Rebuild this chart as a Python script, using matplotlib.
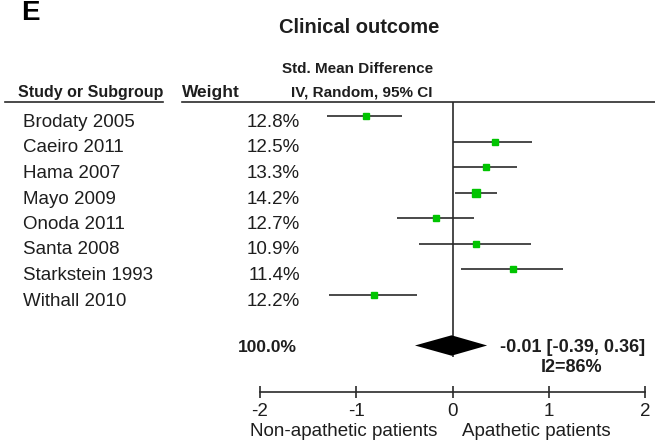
import matplotlib
matplotlib.use("Agg")
import matplotlib.pyplot as plt
import matplotlib.transforms as mtransforms
import numpy as np

# ---- data ----
studies = ["Brodaty 2005", "Caeiro 2011", "Hama 2007", "Mayo 2009",
           "Onoda 2011", "Santa 2008", "Starkstein 1993", "Withall 2010"]
weights = [12.8, 12.5, 13.3, 14.2, 12.7, 10.9, 11.4, 12.2]
smd = [-0.90, 0.44, 0.35, 0.24, -0.17, 0.24, 0.63, -0.82]
ci_low = [-1.30, 0.00, 0.00, 0.03, -0.58, -0.35, 0.09, -1.28]
ci_high = [-0.52, 0.83, 0.67, 0.46, 0.22, 0.82, 1.15, -0.37]
pooled = -0.01
pooled_low = -0.39
pooled_high = 0.36
pooled_label = "-0.01 [-0.39, 0.36]"
het_label = "I2=86%"
total_weight = "100.0%"
xticks = [-2, -1, 0, 1, 2]
xticklabels = ["-2", "-1", "0", "1", "2"]

W, H = 655, 441
plt.rcParams['font.family'] = ['Liberation Sans', 'DejaVu Sans']
TXT = "#1e1e1e"
LINE = "#2a2a2a"
GREEN = "#00c400"

fig = plt.figure(figsize=(W / 100, H / 100), dpi=100)

def fx(px):
    return px / W

def fy(py):
    return 1 - py / H

ax_left, ax_right = 260, 645
ax_top, ax_bot = 101.7, 391.7
ax = fig.add_axes([fx(ax_left), fy(ax_bot), (ax_right - ax_left) / W, (ax_bot - ax_top) / H])

row0_px, row_step = 116.0, 25.5
n = len(studies)
rows = np.arange(n)
pooled_row = n + 1
ax.set_xlim(-2, 2)
ax.set_ylim((ax_bot - row0_px) / row_step, (ax_top - row0_px) / row_step)

ax.vlines(0, ax.get_ylim()[1], pooled_row + 0.47, color=LINE, lw=1.2, zorder=1)

for i in range(n):
    ax.hlines(rows[i], ci_low[i], ci_high[i], color=LINE, lw=1.2, zorder=2)
    ax.plot(smd[i], rows[i], marker='s', ms=weights[i] * 0.36, color=GREEN,
            mec=GREEN, ls='none', zorder=3)

h = 0.4
ax.fill([pooled_low, pooled, pooled_high, pooled],
        [pooled_row, pooled_row - h, pooled_row, pooled_row + h],
        color="black", zorder=4, lw=0)

for s in ["top", "left", "right"]:
    ax.spines[s].set_visible(False)
ax.spines["bottom"].set_color(LINE)
ax.spines["bottom"].set_linewidth(1.2)
ax.set_yticks([])
ax.set_xticks(xticks)
ax.set_xticklabels(xticklabels)
ax.tick_params(axis='x', direction='inout', length=8.5, width=1.2, color=LINE,
               labelsize=13.5, labelcolor=TXT, pad=4)
ax.patch.set_visible(False)

blend = mtransforms.blended_transform_factory(fig.transFigure, ax.transData)
row_tr = mtransforms.offset_copy(blend, fig=fig, y=-11, units='dots')
for i in range(n):
    ax.text(fx(23), rows[i], studies[i], transform=row_tr, ha='left', va='baseline',
            fontsize=13.5, color=TXT, clip_on=False)
    ax.text(fx(300), rows[i], f"{weights[i]:.1f}%", transform=row_tr, ha='right',
            va='baseline', fontsize=13.5, color=TXT, clip_on=False)

pooled_tr = mtransforms.offset_copy(blend, fig=fig, y=-7, units='dots')
ax.text(fx(297), pooled_row, total_weight, transform=pooled_tr, ha='right', va='baseline',
        fontsize=12.5, fontweight='bold', color=TXT, clip_on=False)
ax.text(fx(500), pooled_row, pooled_label, transform=pooled_tr, ha='left', va='baseline',
        fontsize=13, fontweight='bold', color=TXT, clip_on=False)
het_tr = mtransforms.offset_copy(blend, fig=fig, y=-26, units='dots')
ax.text(fx(572), pooled_row, het_label, transform=het_tr, ha='center', va='baseline',
        fontsize=13, fontweight='bold', color=TXT, clip_on=False)

fig.text(fx(21), fy(20.5), "E", fontsize=20, fontweight='bold', color='black', va='baseline')
fig.text(fx(359), fy(33), "Clinical outcome", fontsize=14.5, fontweight='bold', color=TXT,
         ha='center', va='baseline')
fig.text(fx(358), fy(73), "Std. Mean Difference", fontsize=11, fontweight='bold', color=TXT,
         ha='center', va='baseline')
fig.text(fx(361.5), fy(96.5), "IV, Random, 95% CI", fontsize=11, fontweight='bold', color=TXT,
         ha='center', va='baseline')
fig.text(fx(18), fy(96.5), "Study or Subgroup", fontsize=11.5, fontweight='bold', color=TXT,
         ha='left', va='baseline')
fig.text(fx(211), fy(96.5), "Weight", fontsize=12.5, fontweight='bold', color=TXT,
         ha='center', va='baseline')

fig.add_artist(plt.Line2D([fx(5), fx(163)], [fy(101.7), fy(101.7)], color=LINE, lw=1.2))
fig.add_artist(plt.Line2D([fx(182), fx(655)], [fy(101.7), fy(101.7)], color=LINE, lw=1.2))

fig.text(fx(437), fy(436.5), "Non-apathetic patients", fontsize=13.5, color=TXT,
         ha='right', va='baseline')
fig.text(fx(462), fy(436.5), "Apathetic patients", fontsize=13.5, color=TXT,
         ha='left', va='baseline')

fig.savefig("out.png", dpi=100, facecolor='white')
